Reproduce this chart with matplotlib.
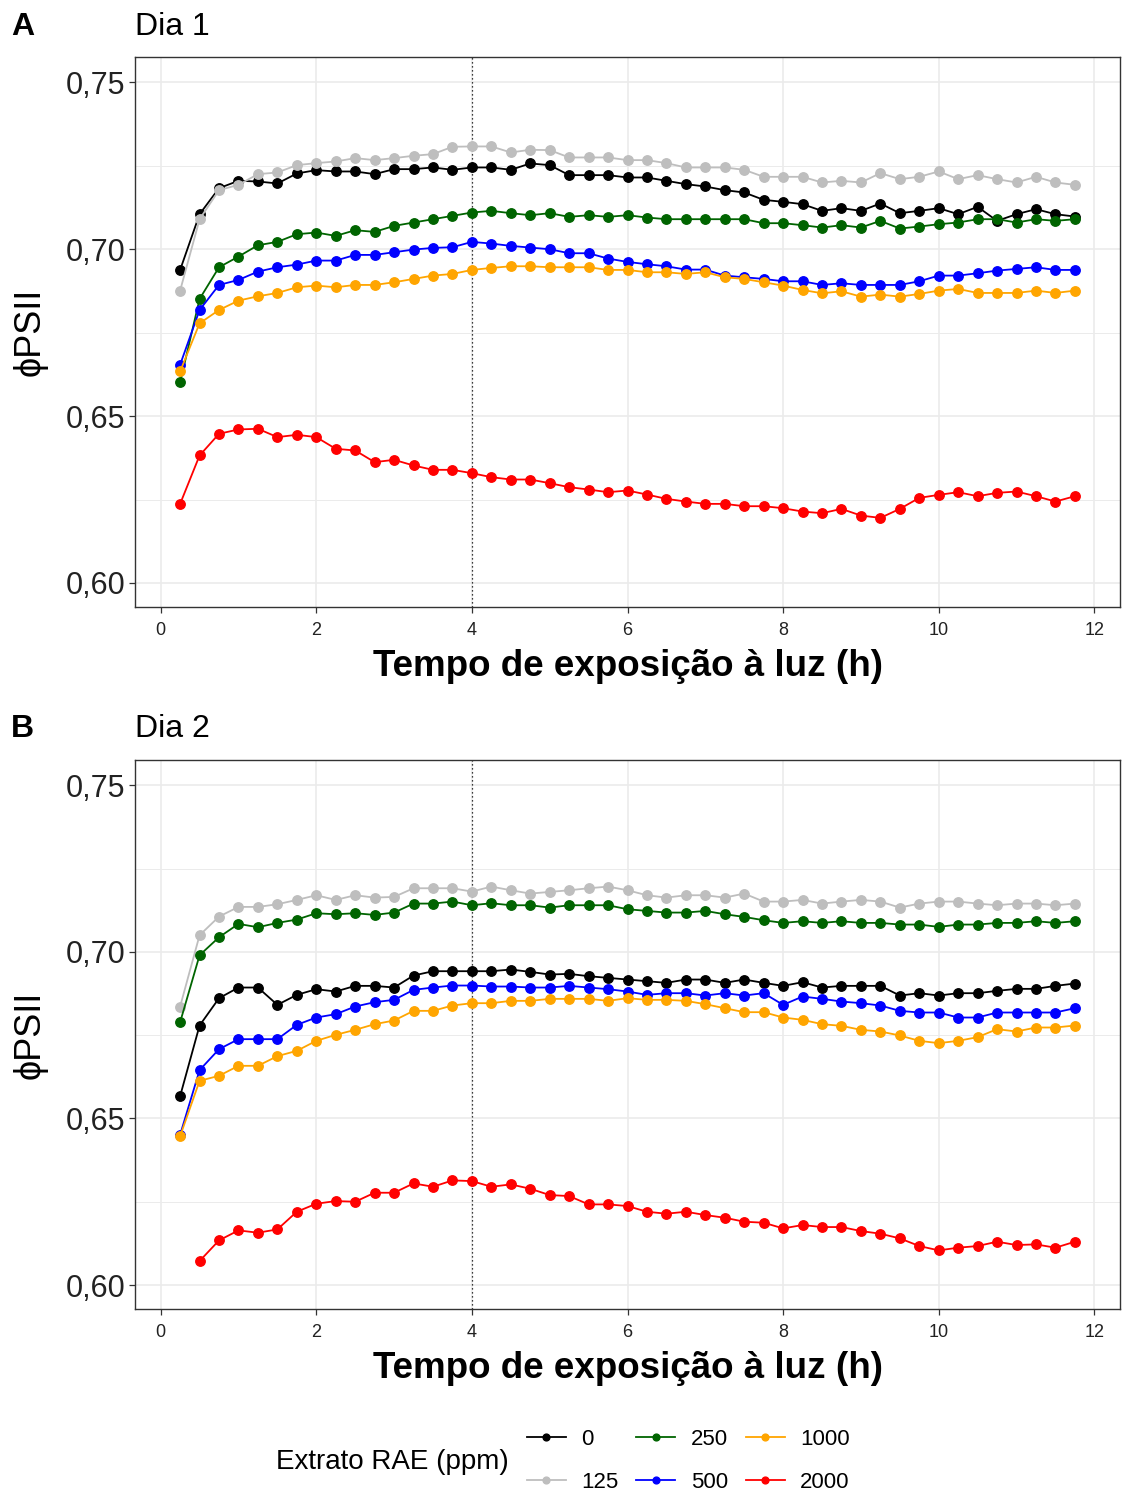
import numpy as np
import matplotlib
matplotlib.use("Agg")
import matplotlib.pyplot as plt
from matplotlib.ticker import FixedLocator

plt.rcParams['font.family'] = ['Liberation Sans', 'DejaVu Sans']

tempo = [0.25, 0.5, 0.75, 1.0, 1.25, 1.5, 1.75, 2.0, 2.25, 2.5, 2.75, 3.0,
         3.25, 3.5, 3.75, 4.0, 4.25, 4.5, 4.75, 5.0, 5.25, 5.5, 5.75, 6.0,
         6.25, 6.5, 6.75, 7.0, 7.25, 7.5, 7.75, 8.0, 8.25, 8.5, 8.75, 9.0,
         9.25, 9.5, 9.75, 10.0, 10.25, 10.5, 10.75, 11.0, 11.25, 11.5, 11.75]

doses = ["0", "125", "250", "500", "1000", "2000"]
cores = ["#000000", "#BEBEBE", "#006400", "#0000FF", "#FFA500", "#FF0000"]

# ---------------- Dia 1 ----------------
d1_0 = [0.6938, 0.7105, 0.7183, 0.7205, 0.7203, 0.7197, 0.7227, 0.7237, 0.7233, 0.7233, 0.7225, 0.7240, 0.7240, 0.7245, 0.7238, 0.7245,
        0.7245, 0.7238, 0.7257, 0.7252, 0.7222, 0.7222, 0.7222, 0.7215, 0.7215, 0.7205, 0.7195, 0.7188, 0.7177, 0.7170, 0.7148, 0.7142,
        0.7135, 0.7115, 0.7123, 0.7115, 0.7137, 0.7108, 0.7115, 0.7123, 0.7105, 0.7127, 0.7085, 0.7105, 0.7120, 0.7105, 0.7098]
d1_125 = [0.6876, 0.7090, 0.7177, 0.7193, 0.7225, 0.7230, 0.7252, 0.7258, 0.7263, 0.7273, 0.7267, 0.7273, 0.7280, 0.7285, 0.7307, 0.7308,
          0.7308, 0.7290, 0.7298, 0.7297, 0.7275, 0.7275, 0.7275, 0.7267, 0.7267, 0.7258, 0.7245, 0.7245, 0.7245, 0.7238, 0.7217, 0.7217,
          0.7217, 0.7200, 0.7205, 0.7200, 0.7228, 0.7210, 0.7217, 0.7233, 0.7210, 0.7222, 0.7210, 0.7200, 0.7217, 0.7200, 0.7193]
d1_250 = [0.6601, 0.6851, 0.6946, 0.6978, 0.7012, 0.7022, 0.7045, 0.7050, 0.7040, 0.7057, 0.7052, 0.7070, 0.7080, 0.7090, 0.7100, 0.7110,
          0.7115, 0.7108, 0.7102, 0.7108, 0.7097, 0.7102, 0.7097, 0.7102, 0.7095, 0.7090, 0.7090, 0.7090, 0.7090, 0.7090, 0.7078, 0.7078,
          0.7072, 0.7065, 0.7072, 0.7065, 0.7085, 0.7062, 0.7068, 0.7075, 0.7080, 0.7090, 0.7090, 0.7080, 0.7090, 0.7085, 0.7090]
d1_500 = [0.6654, 0.6818, 0.6893, 0.6908, 0.6933, 0.6946, 0.6954, 0.6966, 0.6966, 0.6983, 0.6983, 0.6991, 0.6999, 0.7004, 0.7006, 0.7022,
          0.7017, 0.7010, 0.7005, 0.7000, 0.6988, 0.6988, 0.6972, 0.6962, 0.6955, 0.6949, 0.6939, 0.6939, 0.6921, 0.6916, 0.6911, 0.6904,
          0.6904, 0.6893, 0.6898, 0.6893, 0.6893, 0.6893, 0.6904, 0.6921, 0.6921, 0.6928, 0.6936, 0.6941, 0.6946, 0.6938, 0.6938]
d1_1000 = [0.6634, 0.6778, 0.6818, 0.6846, 0.6859, 0.6869, 0.6886, 0.6891, 0.6886, 0.6893, 0.6893, 0.6901, 0.6911, 0.6921, 0.6926, 0.6938,
           0.6944, 0.6949, 0.6949, 0.6946, 0.6946, 0.6946, 0.6938, 0.6938, 0.6931, 0.6931, 0.6926, 0.6931, 0.6916, 0.6911, 0.6901, 0.6891,
           0.6878, 0.6868, 0.6874, 0.6858, 0.6864, 0.6858, 0.6866, 0.6876, 0.6881, 0.6869, 0.6869, 0.6869, 0.6876, 0.6869, 0.6876]
d1_2000 = [0.6237, 0.6382, 0.6447, 0.6460, 0.6462, 0.6437, 0.6444, 0.6437, 0.6402, 0.6397, 0.6362, 0.6369, 0.6352, 0.6339, 0.6339, 0.6329,
           0.6317, 0.6310, 0.6310, 0.6299, 0.6287, 0.6280, 0.6272, 0.6277, 0.6265, 0.6252, 0.6244, 0.6237, 0.6237, 0.6230, 0.6230, 0.6224,
           0.6214, 0.6209, 0.6222, 0.6202, 0.6195, 0.6222, 0.6255, 0.6264, 0.6272, 0.6260, 0.6270, 0.6274, 0.6260, 0.6244, 0.6260]

# ---------------- Dia 2 ----------------
d2_0 = [0.6567, 0.6779, 0.6861, 0.6893, 0.6893, 0.6841, 0.6871, 0.6888, 0.6881, 0.6898, 0.6898, 0.6893, 0.6929, 0.6942, 0.6942, 0.6942,
        0.6942, 0.6947, 0.6940, 0.6932, 0.6934, 0.6927, 0.6922, 0.6917, 0.6912, 0.6907, 0.6917, 0.6917, 0.6907, 0.6917, 0.6907, 0.6898,
        0.6909, 0.6893, 0.6898, 0.6898, 0.6898, 0.6869, 0.6876, 0.6869, 0.6876, 0.6876, 0.6883, 0.6889, 0.6889, 0.6898, 0.6905]
d2_125 = [0.6836, 0.7050, 0.7106, 0.7135, 0.7135, 0.7143, 0.7156, 0.7170, 0.7156, 0.7170, 0.7163, 0.7165, 0.7191, 0.7191, 0.7191, 0.7181,
          0.7196, 0.7185, 0.7175, 0.7180, 0.7185, 0.7191, 0.7196, 0.7185, 0.7170, 0.7163, 0.7170, 0.7170, 0.7163, 0.7175, 0.7151, 0.7151,
          0.7156, 0.7145, 0.7151, 0.7156, 0.7151, 0.7133, 0.7145, 0.7151, 0.7151, 0.7145, 0.7140, 0.7145, 0.7145, 0.7140, 0.7145]
d2_250 = [0.6789, 0.6990, 0.7044, 0.7084, 0.7074, 0.7087, 0.7097, 0.7116, 0.7113, 0.7116, 0.7111, 0.7118, 0.7145, 0.7145, 0.7151, 0.7140,
          0.7146, 0.7140, 0.7140, 0.7133, 0.7140, 0.7140, 0.7140, 0.7128, 0.7123, 0.7118, 0.7118, 0.7123, 0.7113, 0.7105, 0.7095, 0.7087,
          0.7092, 0.7087, 0.7092, 0.7087, 0.7087, 0.7082, 0.7082, 0.7075, 0.7082, 0.7082, 0.7087, 0.7087, 0.7092, 0.7087, 0.7092]
d2_500 = [0.6451, 0.6645, 0.6708, 0.6738, 0.6738, 0.6738, 0.6781, 0.6803, 0.6813, 0.6836, 0.6849, 0.6856, 0.6886, 0.6893, 0.6899, 0.6899,
          0.6896, 0.6896, 0.6893, 0.6893, 0.6898, 0.6893, 0.6888, 0.6881, 0.6871, 0.6876, 0.6876, 0.6869, 0.6876, 0.6869, 0.6876, 0.6841,
          0.6866, 0.6859, 0.6851, 0.6846, 0.6839, 0.6823, 0.6818, 0.6818, 0.6803, 0.6803, 0.6818, 0.6818, 0.6818, 0.6818, 0.6831]
d2_1000 = [0.6447, 0.6613, 0.6628, 0.6658, 0.6658, 0.6687, 0.6703, 0.6733, 0.6751, 0.6766, 0.6783, 0.6794, 0.6823, 0.6823, 0.6839, 0.6846,
           0.6846, 0.6853, 0.6853, 0.6859, 0.6859, 0.6859, 0.6853, 0.6861, 0.6856, 0.6856, 0.6853, 0.6843, 0.6831, 0.6819, 0.6819, 0.6803,
           0.6796, 0.6783, 0.6778, 0.6766, 0.6761, 0.6749, 0.6733, 0.6726, 0.6733, 0.6744, 0.6768, 0.6761, 0.6773, 0.6773, 0.6779]
d2_2000 = [np.nan, 0.6072, 0.6134, 0.6164, 0.6157, 0.6167, 0.6220, 0.6244, 0.6252, 0.6250, 0.6277, 0.6277, 0.6305, 0.6295, 0.6314, 0.6312,
           0.6295, 0.6302, 0.6289, 0.6270, 0.6267, 0.6242, 0.6242, 0.6237, 0.6220, 0.6214, 0.6220, 0.6210, 0.6202, 0.6190, 0.6187, 0.6170,
           0.6180, 0.6174, 0.6174, 0.6162, 0.6154, 0.6140, 0.6117, 0.6104, 0.6112, 0.6117, 0.6130, 0.6120, 0.6122, 0.6112, 0.6130]

dia1 = [d1_0, d1_125, d1_250, d1_500, d1_1000, d1_2000]
dia2 = [d2_0, d2_125, d2_250, d2_500, d2_1000, d2_2000]

y_ticks = [0.60, 0.65, 0.70, 0.75]
y_ticklabels = ["0,60", "0,65", "0,70", "0,75"]
y_minor = [0.625, 0.675, 0.725]
x_ticks = [0, 2, 4, 6, 8, 10, 12]

W, H = 1122, 1495
fig = plt.figure(figsize=(W / 100, H / 100), dpi=100)

def fx(px):
    return px / W

def fy(py):
    return 1 - py / H

def make_panel(top, bottom, series, letter, title, letter_y):
    ax = fig.add_axes([fx(135), fy(bottom), fx(1120) - fx(135), fy(top) - fy(bottom)])
    handles = []
    for vals, col, lab in zip(series, cores, doses):
        h, = ax.plot(tempo, vals, color=col, lw=1.3, marker='o', ms=6.8,
                     mec=col, mfc=col, label=lab, zorder=3)
        handles.append(h)
    ax.axvline(4, color='black', lw=0.9, ls=(0, (1, 2.2)), zorder=2)
    ax.set_xlim(-0.33, 12.33)
    ax.set_ylim(0.5928, 0.7576)
    ax.yaxis.set_major_locator(FixedLocator(y_ticks))
    ax.set_yticklabels(y_ticklabels)
    ax.yaxis.set_minor_locator(FixedLocator(y_minor))
    ax.xaxis.set_major_locator(FixedLocator(x_ticks))
    ax.set_xticklabels([str(v) for v in x_ticks])
    ax.grid(which='major', color='#EBEBEB', lw=1.2, zorder=0)
    ax.grid(which='minor', axis='y', color='#EBEBEB', lw=0.7, zorder=0)
    ax.set_axisbelow(True)
    ax.tick_params(axis='y', which='major', labelsize=22, length=4, width=0.9,
                   color='#333333', labelcolor='#222222', pad=3)
    ax.tick_params(axis='x', which='major', labelsize=13, length=4, width=0.9,
                   color='#333333', labelcolor='#222222', pad=7)
    ax.tick_params(which='minor', length=0)
    for s in ax.spines.values():
        s.set_color('#333333')
        s.set_linewidth(1.0)
    fig.text(fx(11), fy(letter_y), letter, fontsize=23, fontweight='bold',
             ha='left', va='center')
    fig.text(fx(135), fy(letter_y), title, fontsize=23, ha='left', va='center')
    fig.text(fx(30), fy((top + bottom) / 2), "\u03d5PSII", fontsize=26,
             rotation=90, ha='center', va='center')
    fig.text(fx(628), fy(bottom + 60), "Tempo de exposição à luz (h)",
             fontsize=26.5, fontweight='bold', ha='center', va='center')
    return ax, handles

axA, hA = make_panel(57, 607, dia1, "A", "Dia 1", 27)
axB, hB = make_panel(760, 1309, dia2, "B", "Dia 2", 729)

fig.text(fx(276), fy(1462), "Extrato RAE (ppm)", fontsize=20, ha='left', va='center')
fig.legend(handles=hA, labels=doses, ncol=3, loc='center left',
           bbox_to_anchor=(fx(518), fy(1461)), frameon=False, fontsize=16,
           handlelength=1.75, handletextpad=0.7, columnspacing=0.8,
           labelspacing=0.98, markerscale=0.72, borderaxespad=0)

fig.savefig("out.png", dpi=100)
